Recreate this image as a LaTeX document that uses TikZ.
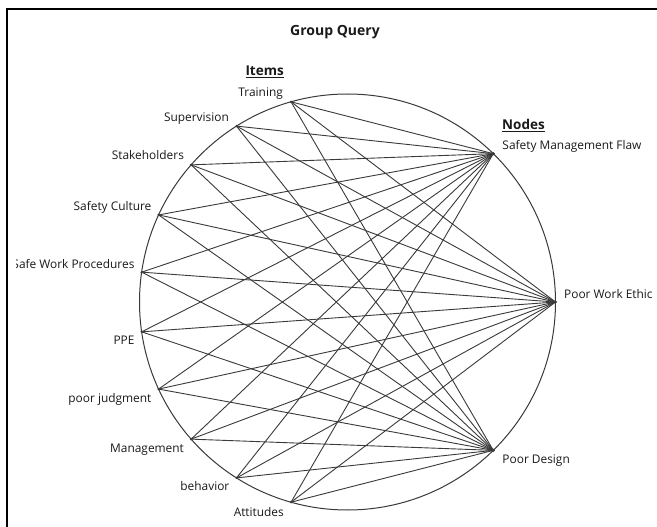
\documentclass[tikz,border=0pt]{standalone}
\usepackage{fontspec}
\setmainfont{Open Sans}
\usetikzlibrary{calc}
\definecolor{ink}{HTML}{1A1A1A}
\definecolor{wire}{HTML}{3A3A3A}
\tikzset{
  lbl/.style={inner sep=0pt, text=ink, font=\fontsize{11.9}{14}\selectfont,
              text height=9pt, text depth=3pt},
  head/.style={lbl, font=\fontsize{13.5}{16}\selectfont\bfseries,
               text height=10pt, text depth=3pt},
  link/.style={wire, line width=0.9pt},
  ring/.style={wire, line width=1pt},
  frame/.style={black, line width=1.6pt},
  pin/.style={fill=wire, circle, inner sep=0pt, minimum size=2.6pt}
}
\begin{document}
\begin{tikzpicture}[x=1pt, y=-1pt]
  \useasboundingbox (0,0) rectangle (657,527);
  \fill[white] (0,0) rectangle (657,527);

  % panel frame (top and left edges)
  \draw[frame] (7,527) -- (7,9) -- (657,9);

  \begin{scope}
    \clip (16,10) rectangle (657,527);

    % title and column headings
    \node[head, anchor=center, font=\fontsize{14}{16}\selectfont\bfseries]
      (title) at (335,32) {Group Query};
    \node[head, anchor=east] (items) at (284,72) {\underline{Items}};
    \node[head, anchor=west] (nodes) at (502,126) {\underline{Nodes}};

    % the ring
    \coordinate (c) at (347.5,302);
    \draw[ring] (c) circle [radius=208pt];

    % items on the left arc
    \foreach \k/\a in {1/105.75, 2/122.25, 3/138.75, 4/155.25, 5/171.75,
                       6/188.25, 7/204.75, 8/221.25, 9/237.75, 10/254.25}
      \coordinate (i\k) at ($(c)+(-\a:208)$);

    % nodes on the right arc
    \coordinate (n1) at ($(c)+(-45.5:208)$);
    \coordinate (n2) at ($(c)+(0:208)$);
    \coordinate (n3) at ($(c)+(45.5:208)$);

    % every item is linked to every node
    \foreach \k in {1,...,10}
      \foreach \j in {1,2,3}
        \draw[link] (i\k) -- (n\j);

    \foreach \k in {1,...,10} \node[pin] at (i\k) {};
    \foreach \j in {1,2,3} \node[pin, minimum size=3.4pt] at (n\j) {};

    % item labels
    \node[lbl, anchor=east] (l1) at ($(i1)+(-8,-8.5)$) {Training};
    \node[lbl, anchor=east] (l2) at ($(i2)+(-7.5,-8)$) {Supervision};
    \node[lbl, anchor=east] (l3) at ($(i3)+(-7,-8)$) {Stakeholders};
    \node[lbl, anchor=east] (l4) at ($(i4)+(-7,-7)$) {Safety Culture};
    \node[lbl, anchor=east] (l5) at ($(i5)+(-7,-7)$) {Safe Work Procedures};
    \node[lbl, anchor=east] (l6) at ($(i6)+(-7,9.5)$) {PPE};
    \node[lbl, anchor=east] (l7) at ($(i7)+(-7,10)$) {poor judgment};
    \node[lbl, anchor=east] (l8) at ($(i8)+(-7,10.5)$) {Management};
    \node[lbl, anchor=east] (l9) at ($(i9)+(-7,10)$) {behavior};
    \node[lbl, anchor=east] (l10) at ($(i10)+(-7,11.5)$) {Attitudes};

    % node labels
    \node[lbl, anchor=west] (m1) at ($(n1)+(9,-7)$) {Safety Management Flaw};
    \node[lbl, anchor=west] (m2) at ($(n2)+(8.5,-7)$) {Poor Work Ethic};
    \node[lbl, anchor=west] (m3) at ($(n3)+(9,10)$) {Poor Design};
  \end{scope}
\end{tikzpicture}
\end{document}
